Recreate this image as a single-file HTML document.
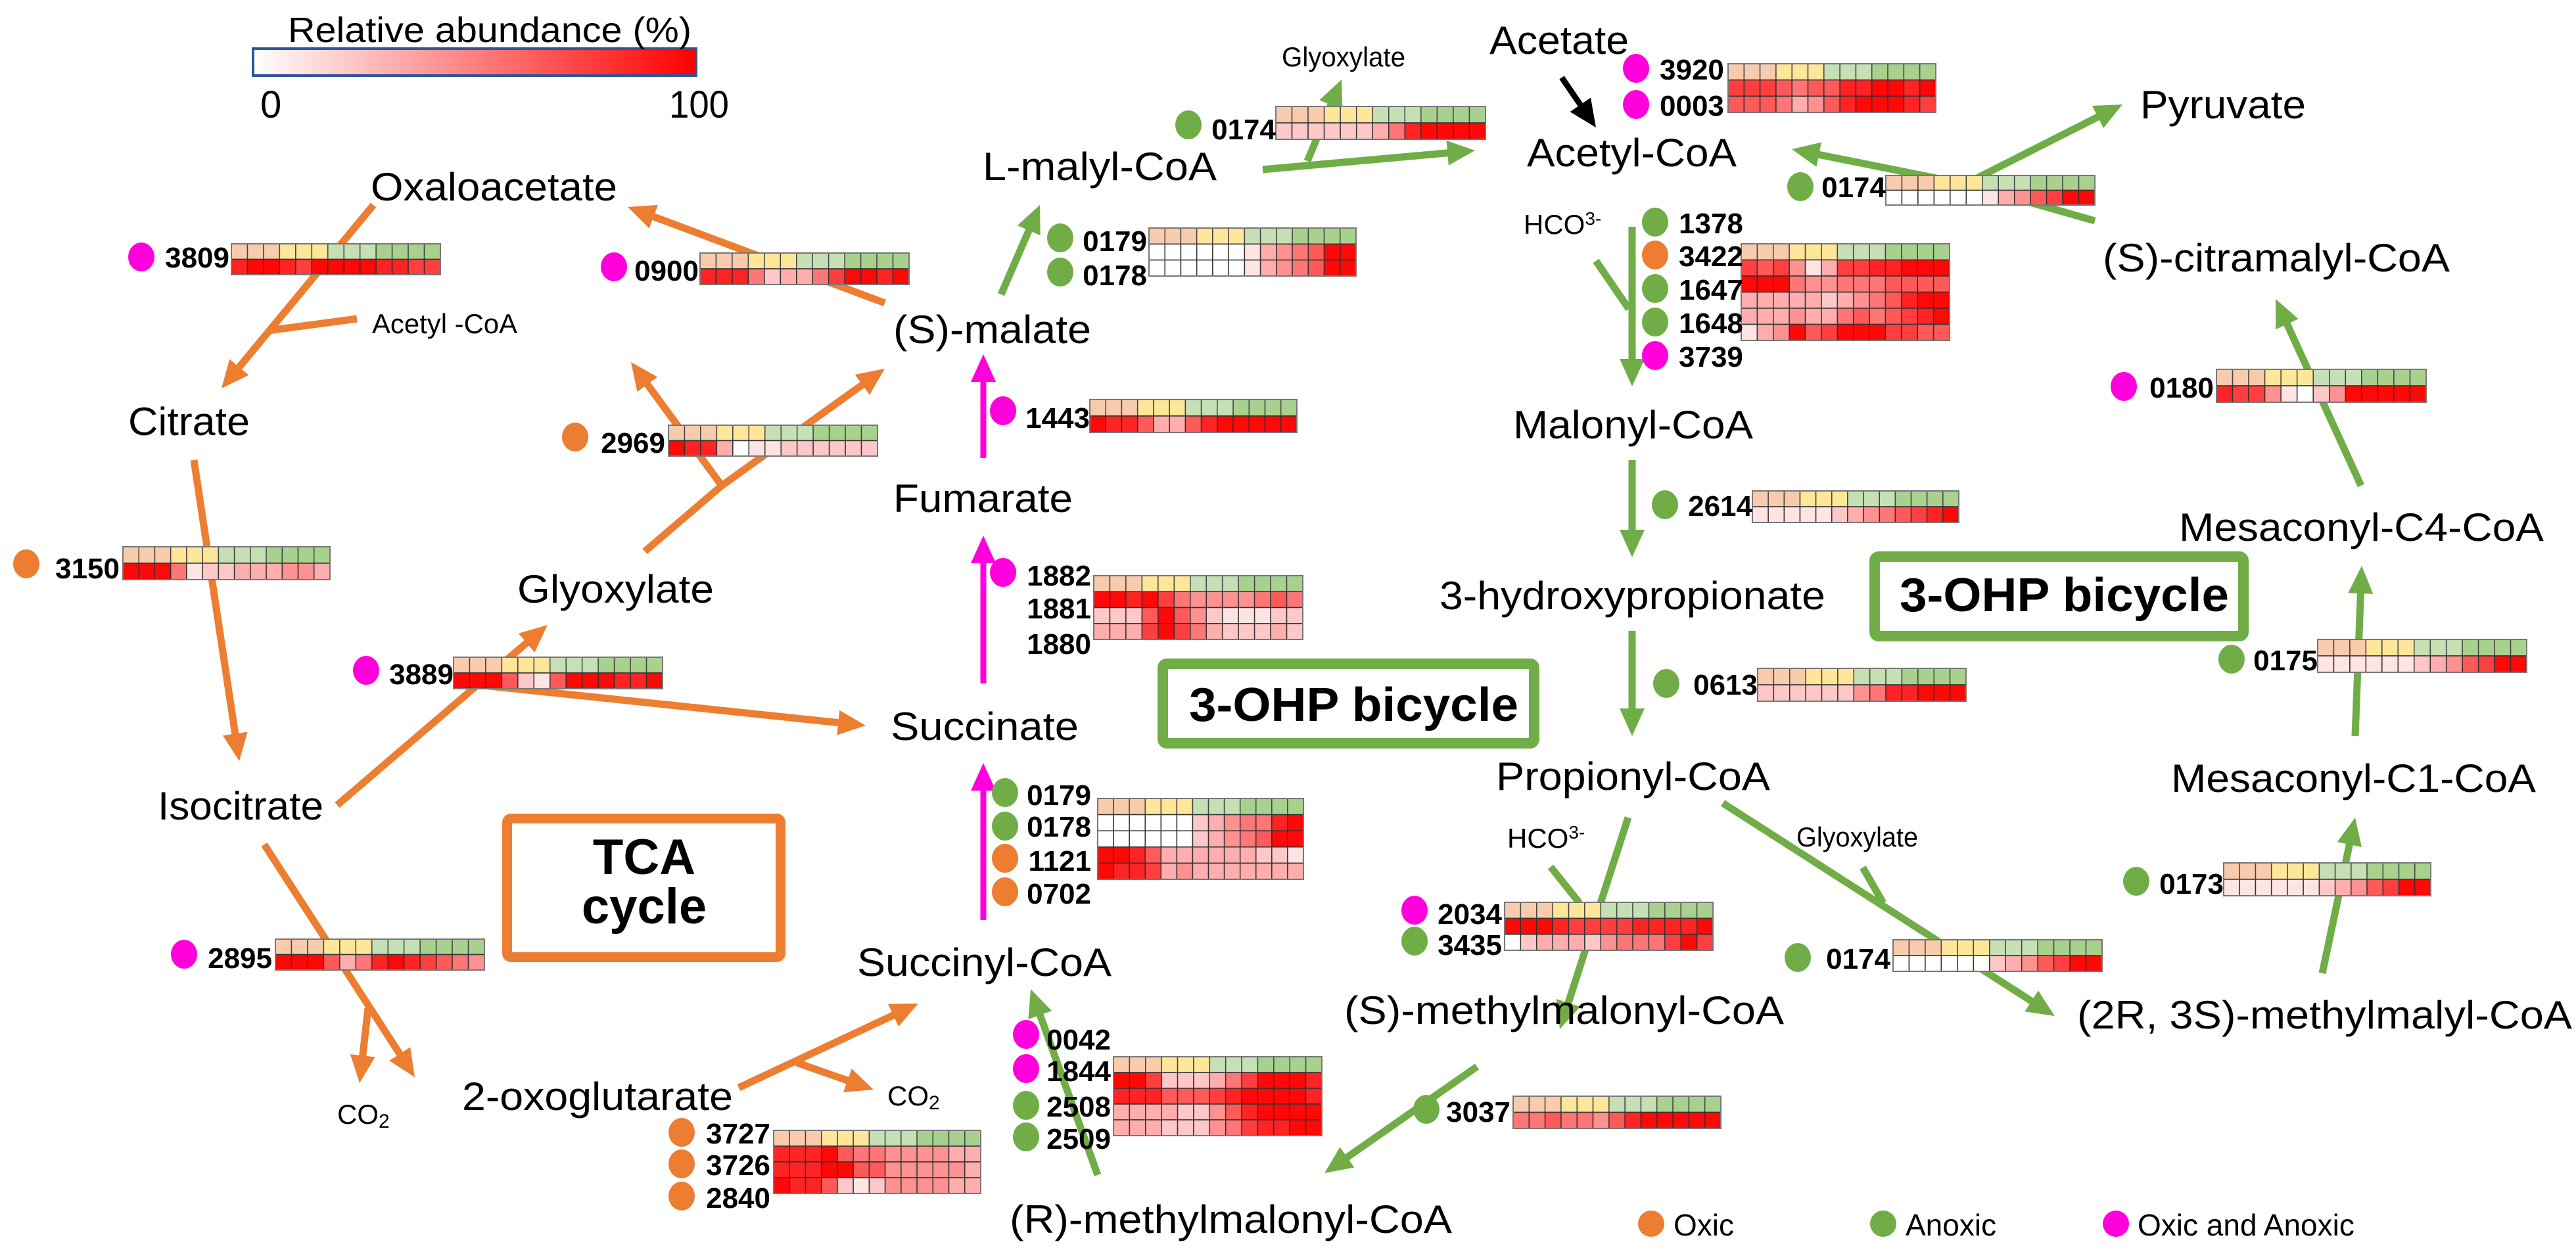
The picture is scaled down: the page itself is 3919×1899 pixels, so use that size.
<!DOCTYPE html>
<html><head><meta charset="utf-8"><style>
html,body{margin:0;padding:0;background:#fff;}
svg{display:block;}
text{font-family:"Liberation Sans",sans-serif;fill:#000;}
.c{font-size:60px;}
.s{font-size:42px;}
.l{font-size:44px;font-weight:bold;}
.b{font-weight:bold;}
</style></head><body>
<svg id="s" width="3919" height="1899" viewBox="0 0 3919 1899" xmlns="http://www.w3.org/2000/svg">
<defs><linearGradient id="gr" x1="0" x2="1" y1="0" y2="0"><stop offset="0" stop-color="#fff"/><stop offset="1" stop-color="#f00"/></linearGradient></defs>
<rect x="0" y="0" width="3919" height="1899" fill="#fff"/>
<g id="lines"></g>
<g id="hm"></g>
<!-- legend -->
<rect x="385" y="74" width="674" height="41" fill="url(#gr)" stroke="#2f5597" stroke-width="4"/>
<text x="438" y="64" font-size="54" textLength="614" lengthAdjust="spacingAndGlyphs">Relative abundance (%)</text>
<text x="396" y="179" font-size="58">0</text>
<text x="1018" y="179" font-size="58" textLength="91" lengthAdjust="spacingAndGlyphs">100</text>
<!-- boxes -->
<rect x="771.5" y="1245.5" width="416" height="211" rx="6" fill="none" stroke="#ed7d31" stroke-width="15"/>
<text class="b" x="980" y="1330" font-size="76" text-anchor="middle">TCA</text>
<text class="b" x="980" y="1405" font-size="76" text-anchor="middle">cycle</text>
<rect x="1769" y="1010" width="565" height="121" rx="6" fill="none" stroke="#70ad47" stroke-width="16"/>
<text class="b" x="1809" y="1097" font-size="72" textLength="501" lengthAdjust="spacingAndGlyphs">3-OHP bicycle</text>
<rect x="2852" y="847" width="561" height="121" rx="6" fill="none" stroke="#70ad47" stroke-width="16"/>
<text class="b" x="2890" y="930" font-size="72" textLength="501" lengthAdjust="spacingAndGlyphs">3-OHP bicycle</text>
<!-- compounds -->
<g class="c">
<text x="564" y="305" textLength="375" lengthAdjust="spacingAndGlyphs">Oxaloacetate</text>
<text x="195" y="662" textLength="185" lengthAdjust="spacingAndGlyphs">Citrate</text>
<text x="787" y="917" textLength="299" lengthAdjust="spacingAndGlyphs">Glyoxylate</text>
<text x="240" y="1247" textLength="252" lengthAdjust="spacingAndGlyphs">Isocitrate</text>
<text x="703" y="1689" textLength="412" lengthAdjust="spacingAndGlyphs">2-oxoglutarate</text>
<text x="1355" y="1126" textLength="286" lengthAdjust="spacingAndGlyphs">Succinate</text>
<text x="1304" y="1485" textLength="387" lengthAdjust="spacingAndGlyphs">Succinyl-CoA</text>
<text x="1359" y="779" textLength="273" lengthAdjust="spacingAndGlyphs">Fumarate</text>
<text x="1359" y="522" textLength="301" lengthAdjust="spacingAndGlyphs">(S)-malate</text>
<text x="1495" y="274" textLength="356" lengthAdjust="spacingAndGlyphs">L-malyl-CoA</text>
<text x="2266" y="82" textLength="212" lengthAdjust="spacingAndGlyphs">Acetate</text>
<text x="2323" y="253" textLength="319" lengthAdjust="spacingAndGlyphs">Acetyl-CoA</text>
<text x="3256" y="180" textLength="252" lengthAdjust="spacingAndGlyphs">Pyruvate</text>
<text x="3199" y="413" textLength="528" lengthAdjust="spacingAndGlyphs">(S)-citramalyl-CoA</text>
<text x="2302" y="667" textLength="365" lengthAdjust="spacingAndGlyphs">Malonyl-CoA</text>
<text x="3315" y="823" textLength="555" lengthAdjust="spacingAndGlyphs">Mesaconyl-C4-CoA</text>
<text x="2190" y="927" textLength="587" lengthAdjust="spacingAndGlyphs">3-hydroxypropionate</text>
<text x="2276" y="1202" textLength="417" lengthAdjust="spacingAndGlyphs">Propionyl-CoA</text>
<text x="3303" y="1205" textLength="555" lengthAdjust="spacingAndGlyphs">Mesaconyl-C1-CoA</text>
<text x="2045" y="1558" textLength="669" lengthAdjust="spacingAndGlyphs">(S)-methylmalonyl-CoA</text>
<text x="3160" y="1565" textLength="753" lengthAdjust="spacingAndGlyphs">(2R, 3S)-methylmalyl-CoA</text>
<text x="1536" y="1876" textLength="673" lengthAdjust="spacingAndGlyphs">(R)-methylmalonyl-CoA</text>
</g>
<g class="s">
<text x="566" y="507" textLength="221" lengthAdjust="spacingAndGlyphs">Acetyl -CoA</text>
<text x="1950" y="101" textLength="188" lengthAdjust="spacingAndGlyphs">Glyoxylate</text>
<text x="2733" y="1288" textLength="185" lengthAdjust="spacingAndGlyphs">Glyoxylate</text>
<text x="2318" y="356">HCO<tspan font-size="28" dy="-14">3-</tspan></text>
<text x="2293" y="1290">HCO<tspan font-size="28" dy="-14">3-</tspan></text>
<text x="513" y="1710">CO<tspan font-size="30" dy="6">2</tspan></text>
<text x="1350" y="1682">CO<tspan font-size="30" dy="6">2</tspan></text>
</g>
<!-- legend bottom -->
<circle cx="2512" cy="1862" r="20" fill="#ed7d31"/><text x="2546" y="1880" font-size="46">Oxic</text>
<circle cx="2865" cy="1862" r="20" fill="#70ad47"/><text x="2899" y="1880" font-size="46">Anoxic</text>
<circle cx="3219" cy="1862" r="20" fill="#ff00dd"/><text x="3252" y="1880" font-size="46">Oxic and Anoxic</text>
<g id="dots"></g>
<!-- gene labels -->
<g class="l">
<text x="349" y="407" text-anchor="end">3809</text>
<text x="1063" y="427" text-anchor="end">0900</text>
<text x="1012" y="689" text-anchor="end">2969</text>
<text x="182" y="880" text-anchor="end">3150</text>
<text x="690" y="1041" text-anchor="end">3889</text>
<text x="414" y="1473" text-anchor="end">2895</text>
<text x="1172" y="1740" text-anchor="end">3727</text>
<text x="1172" y="1788" text-anchor="end">3726</text>
<text x="1172" y="1838" text-anchor="end">2840</text>
<text x="1941" y="212" text-anchor="end">0174</text>
<text x="1745" y="382" text-anchor="end">0179</text>
<text x="1745" y="434" text-anchor="end">0178</text>
<text x="1658" y="651" text-anchor="end">1443</text>
<text x="1660" y="891" text-anchor="end">1882</text>
<text x="1660" y="941" text-anchor="end">1881</text>
<text x="1660" y="995" text-anchor="end">1880</text>
<text x="1660" y="1225" text-anchor="end">0179</text>
<text x="1660" y="1273" text-anchor="end">0178</text>
<text x="1660" y="1325" text-anchor="end">1121</text>
<text x="1660" y="1375" text-anchor="end">0702</text>
<text x="1690" y="1597" text-anchor="end">0042</text>
<text x="1690" y="1645" text-anchor="end">1844</text>
<text x="1690" y="1699" text-anchor="end">2508</text>
<text x="1690" y="1748" text-anchor="end">2509</text>
<text x="2285" y="1406" text-anchor="end">2034</text>
<text x="2285" y="1453" text-anchor="end">3435</text>
<text x="2298" y="1707" text-anchor="end">3037</text>
<text x="2554" y="355">1378</text>
<text x="2554" y="405">3422</text>
<text x="2554" y="456">1647</text>
<text x="2554" y="507">1648</text>
<text x="2554" y="558">3739</text>
<text x="2525" y="121">3920</text>
<text x="2525" y="176">0003</text>
<text x="2869" y="300" text-anchor="end">0174</text>
<text x="3368" y="605" text-anchor="end">0180</text>
<text x="2666" y="785" text-anchor="end">2614</text>
<text x="2674" y="1057" text-anchor="end">0613</text>
<text x="3526" y="1020" text-anchor="end">0175</text>
<text x="3383" y="1360" text-anchor="end">0173</text>
<text x="2876" y="1474" text-anchor="end">0174</text>
</g>
</svg>
<script>
(function(){
var NS="http://www.w3.org/2000/svg";
function el(p,n,a){var e=document.createElementNS(NS,n);for(var k in a)e.setAttribute(k,a[k]);p.appendChild(e);return e;}
var L=document.getElementById('lines'),H=document.getElementById('hm'),D=document.getElementById('dots');
var O="#ed7d31",G="#70ad47",M="#ff00dd",K="#000";
function line(pts,c,arrow,w){w=w||11;var p=pts.slice();
 if(arrow){var n=p.length,a=p[n-2],b=p[n-1],dx=b[0]-a[0],dy=b[1]-a[1],d=Math.sqrt(dx*dx+dy*dy),ux=dx/d,uy=dy/d,hl=42,hw=19;
  var bx=b[0]-ux*hl,by=b[1]-uy*hl;
  p[n-1]=[b[0]-ux*(hl-4),b[1]-uy*(hl-4)];
  el(L,'polygon',{points:b[0]+','+b[1]+' '+(bx-uy*hw)+','+(by+ux*hw)+' '+(bx+uy*hw)+','+(by-ux*hw),fill:c});}
 el(L,'polyline',{points:p.map(function(q){return q.join(',')}).join(' '),fill:'none',stroke:c,'stroke-width':w,'stroke-linejoin':'round'});}
// orange
line([[568,312],[337,591]],O,1);
line([[408,503],[543,485]],O,0);
line([[1346,461],[955,315]],O,1);
line([[981,839],[1098,739],[1346,561]],O,1);
line([[1098,739],[960,551]],O,1);
line([[295,700],[364,1158]],O,1);
line([[513,1225],[833,951]],O,1);
line([[735,1043],[1317,1104]],O,1);
line([[402,1285],[631,1639]],O,1);
line([[560,1534],[547,1648]],O,1);
line([[1124,1655],[1397,1527]],O,1);
line([[1212,1617],[1329,1658]],O,1);
// magenta
line([[1496,697],[1496,539]],M,1,9);
line([[1496,1040],[1496,815]],M,1,9);
line([[1496,1400],[1496,1161]],M,1,9);
// green
line([[1523,448],[1582,312]],G,1);
line([[1921,258],[2244,229]],G,1);
line([[1989,245],[2041,121]],G,1);
line([[2376,118],[2428,194]],K,1,9);
line([[2483,345],[2483,588]],G,1);
line([[2428,397],[2478,470]],G,0);
line([[2483,700],[2483,848]],G,1);
line([[2483,960],[2483,1120]],G,1);
line([[2477,1244],[2373,1566]],G,1);
line([[2359,1319],[2403,1374]],G,0);
line([[2247,1623],[2015,1785]],G,1);
line([[1670,1788],[1568,1505]],G,1);
line([[2621,1222],[3126,1546]],G,1);
line([[2834,1320],[2865,1374]],G,0);
line([[3533,1481],[3583,1244]],G,1);
line([[3583,1120],[3593,861]],G,1);
line([[3592,739],[3462,455]],G,1);
line([[3187,336],[2990,280],[2726,227]],G,1);
line([[2990,280],[3229,159]],G,1);
// heatmaps
var hdr=["#f8cbad","#f8cbad","#f8cbad","#ffe699","#ffe699","#ffe699","#c5e0b4","#c5e0b4","#c5e0b4","#a9d18e","#a9d18e","#a9d18e","#a9d18e"];
function red(v){var t=v/9,g=Math.round(255*(1-t*0.97));return 'rgb(255,'+g+','+g+')';}
function hm(x,y,w,h,rows){var n=rows.length+1,cw=w/13,rh=h/n;
 for(var i=0;i<13;i++)el(H,'rect',{x:x+i*cw,y:y,width:cw,height:rh,fill:hdr[i],stroke:'#444','stroke-width':1.5});
 rows.forEach(function(r,j){for(var i=0;i<13;i++)el(H,'rect',{x:x+i*cw,y:y+(j+1)*rh,width:cw,height:rh,fill:red(+r[i]),stroke:'#333','stroke-width':1.5});});
 el(H,'rect',{x:x,y:y,width:w,height:h,fill:'none',stroke:'#777','stroke-width':2});}
hm(352,371,318,47,["8998799998877"]);
hm(1065,385,318,48,["8885233579989"]);
hm(1017,647,318,47,["9883011222222"]);
hm(187,832,315,50,["9995122333443"]);
hm(690,1000,318,48,["9996216999889"]);
hm(419,1429,318,47,["9996358987654"]);
hm(1177,1720,315,96,["8889655444433","8889966444443","9886212444433"]);
hm(1941,162,319,50,["2222223589999"]);
hm(1748,347,315,73,["0000001345699","0000001345699"]);
hm(1658,608,315,50,["9886336899999"]);
hm(1664,876,318,97,["9989754444565","2226964211122","3337975322232"]);
hm(1670,1215,313,123,["0000002345589","0000002345699","9986333333221","9887343333333"]);
hm(1694,1608,317,120,["9972223579998","8886667899998","3333224689999","3332224578899"]);
hm(2289,1373,317,73,["9998777788889","0233324555797"]);
hm(2302,1668,316,49,["5565546899999"]);
hm(2649,371,317,147,["7674137788999","9995445556666","3333323456899","3334335656789","1349679997766"]);
hm(2629,97,316,74,["7776566889989","6665346899987"]);
hm(2869,267,318,45,["0000001346799"]);
hm(3372,562,319,50,["8774102499999"]);
hm(2666,747,314,48,["1111123456789"]);
hm(2674,1017,317,50,["2222224588999"]);
hm(3526,973,318,50,["1111112346799"]);
hm(3383,1313,315,50,["1111112346799"]);
hm(2880,1430,318,48,["0000002346799"]);
// dots
[[215,391,M],[934,406,M],[875,665,O],[40,858,O],[557,1020,M],[280,1452,M],
[1037,1723,O],[1037,1771,O],[1037,1820,O],[1808,190,G],[1613,362,G],[1613,414,G],
[1526,625,M],[1526,871,M],[1529,1206,G],[1529,1257,G],[1529,1306,O],[1529,1357,O],
[1561,1574,M],[1561,1626,M],[1561,1682,G],[1561,1730,G],[2152,1385,M],[2152,1432,G],
[2170,1688,G],[2518,338,G],[2518,388,O],[2518,439,G],[2518,490,G],[2518,541,M],
[2489,104,M],[2489,159,M],[2739,284,G],[3231,588,M],[2533,768,G],[2535,1040,G],
[3395,1003,G],[3250,1341,G],[2735,1457,G]].forEach(function(d){el(D,'ellipse',{cx:d[0],cy:d[1],rx:20,ry:22,fill:d[2]});});
})();
</script>
</body></html>
